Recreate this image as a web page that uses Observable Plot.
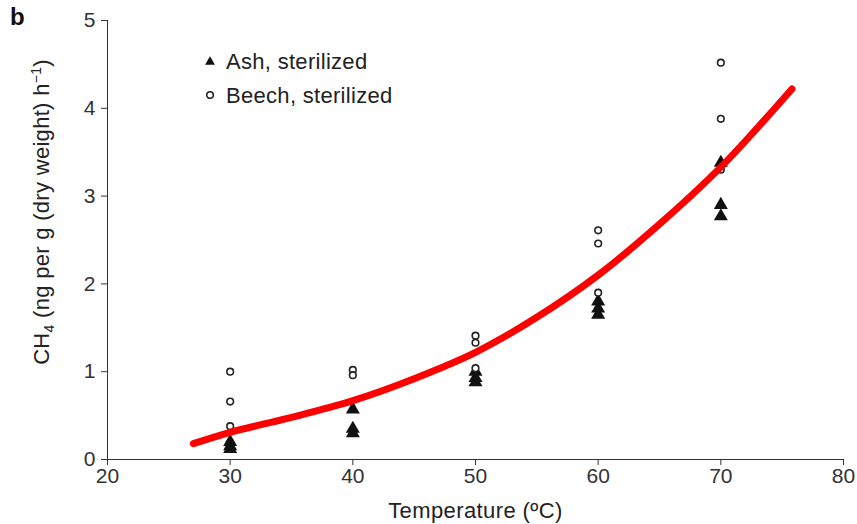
<!DOCTYPE html>
<html><head><meta charset="utf-8">
<script src="https://cdn.jsdelivr.net/npm/d3@7"></script>
<script src="https://cdn.jsdelivr.net/npm/@observablehq/plot@0.6"></script>
<style>
body{margin:0;background:#fff;font-family:"Liberation Sans",Arial,sans-serif;}
#wrap{position:relative;width:857px;height:524px;}
#panel{position:absolute;left:10px;top:3px;font-weight:bold;font-size:24px;color:#111;}
#legend{position:absolute;left:203px;top:45px;font-size:22px;letter-spacing:0.3px;color:#222;line-height:34px;}
#legend svg{vertical-align:middle;margin-right:9px;position:relative;top:-2px;}
</style></head>
<body><div id="wrap"><div id="panel">b</div><div id="legend"></div></div>
<script>
const ashTemp  = [30,30,30, 40,40,40, 50,50,50, 60,60,60, 70,70,70];
const ashCH4   = [0.2,0.15,0.12, 0.57,0.35,0.3, 1.0,0.93,0.88, 1.8,1.72,1.65, 3.38,2.9,2.77];
const beechTemp= [30,30,30, 40,40, 50,50,50, 60,60,60, 70,70,70];
const beechCH4 = [1.0,0.66,0.38, 1.02,0.96, 1.41,1.33,1.04, 2.61,2.46,1.9, 4.52,3.88,3.3];
const fitTemp  = [27,30,35,40,45,50,55,60,65,70,73,75.8];
const fitCH4   = [0.18,0.31,0.48,0.67,0.92,1.22,1.62,2.1,2.68,3.33,3.78,4.22];
const xTicks = [20,30,40,50,60,70,80];
const yTicks = [0,1,2,3,4,5];

const ash = ashTemp.map((t,i)=>({t, v:ashCH4[i]}));
const beech = beechTemp.map((t,i)=>({t, v:beechCH4[i]}));
const fit = fitTemp.map((t,i)=>({t, v:fitCH4[i]}));

const chart = Plot.plot({
  width:857, height:524,
  marginLeft:107, marginRight:14, marginTop:20, marginBottom:65,
  style:{fontFamily:'"Liberation Sans",Arial,sans-serif', fontSize:"21px", color:"#333", background:"#fff"},
  x:{domain:[20,80], ticks:xTicks, tickFormat:"d", tickSize:6, tickPadding:3, label:"Temperature (ºC)", labelArrow:"none", labelAnchor:"center", labelOffset:58, line:true},
  y:{domain:[0,5], ticks:yTicks, tickFormat:"d", tickSize:6, tickPadding:6, label:"CH4 (ng per g (dry weight) h-1)", labelArrow:"none", labelAnchor:"center", labelOffset:74, line:true},
  marks:[
    Plot.dot(ash,{x:"t", y:"v", symbol:"triangle", r:5.2, fill:"#111", stroke:"none"}),
    Plot.dot(beech,{x:"t", y:"v", symbol:"circle", r:3.3, fill:"#fff", stroke:"#222", strokeWidth:1.6}),
    Plot.line(fit,{x:"t", y:"v", curve:"catmull-rom", stroke:"#ff0000", strokeWidth:7})
  ]
});
const svg = d3.select(chart);
svg.selectAll("[aria-label='x-axis label'] text").style("font-size","22px").style("letter-spacing","0.4px").attr("fill","#222");
const yl = svg.select("[aria-label='y-axis label'] text").style("font-size","22px").style("letter-spacing","0.3px").attr("fill","#222");
yl.text(null);
yl.append("tspan").text("CH");
yl.append("tspan").attr("dy","5").style("font-size","14px").text("4");
yl.append("tspan").attr("dy","-5").text(" (ng per g (dry weight) h");
yl.append("tspan").attr("dy","-8").style("font-size","14px").text("−1");
yl.append("tspan").attr("dy","8").text(")");
const ylg = svg.select("[aria-label='y-axis label']");
ylg.attr("transform", (ylg.attr("transform") || "") + " translate(0,-28)");
document.getElementById("wrap").prepend(chart);
document.getElementById("legend").innerHTML =
 `<div><svg width="14" height="14"><path transform="translate(7,8)" d="${d3.symbol(d3.symbolTriangle2,70)()}" fill="#111"/></svg>Ash, sterilized</div>`+
 `<div><svg width="14" height="14"><circle cx="7" cy="7" r="3.3" fill="#fff" stroke="#222" stroke-width="1.6"/></svg>Beech, sterilized</div>`;
</script></body></html>
